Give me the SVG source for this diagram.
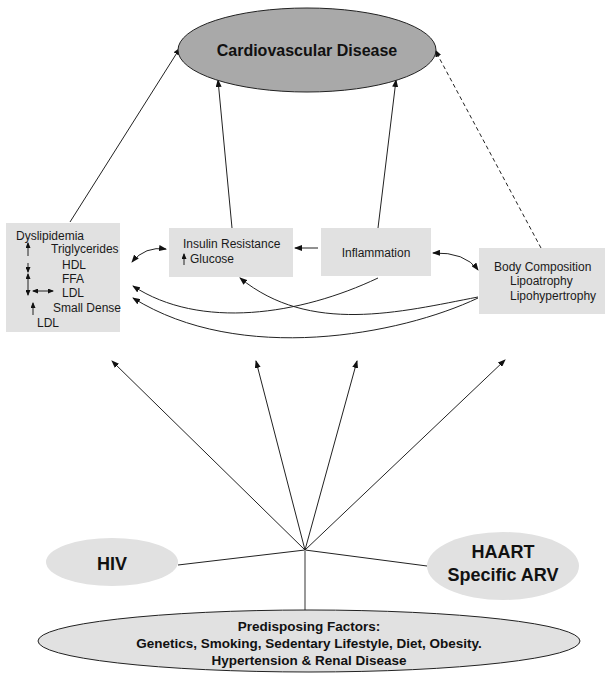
<svg xmlns="http://www.w3.org/2000/svg" width="612" height="679" viewBox="0 0 612 679">
<defs>
<marker id="ah" markerWidth="8" markerHeight="6" refX="7" refY="3" orient="auto-start-reverse" markerUnits="userSpaceOnUse">
<path d="M0,0 L8,3 L0,6 z" fill="#111"/>
</marker>
<marker id="sh" markerWidth="6" markerHeight="5" refX="5" refY="2.5" orient="auto-start-reverse" markerUnits="userSpaceOnUse">
<path d="M0,0 L6,2.5 L0,5 z" fill="#111"/>
</marker>
<style>
.box{fill:#e1e1e1;}
.t{font-family:"Liberation Sans",Arial,sans-serif;font-size:12px;fill:#1a1a1a;}
.b{font-family:"Liberation Sans",Arial,sans-serif;font-weight:bold;fill:#111;}
.c{fill:none;stroke:#222;stroke-width:1;}
</style>
</defs>
<rect width="612" height="679" fill="#fff"/>

<g id="connectors">
<path class="c" d="M70,222 L180,48" marker-end="url(#ah)"/>
<path class="c" d="M232,228 L218,80" marker-end="url(#ah)"/>
<path class="c" d="M378,228 L396,80" marker-end="url(#ah)"/>
<path class="c" d="M541,248 L435,50" stroke-dasharray="4,3" marker-end="url(#ah)"/>
<path class="c" d="M132,262 Q145,246 166,249" marker-start="url(#ah)" marker-end="url(#ah)"/>
<path class="c" d="M318,248 L295,248" marker-end="url(#ah)"/>
<path class="c" d="M433,253 Q465,252 478,270" marker-start="url(#ah)" marker-end="url(#ah)"/>
<path class="c" d="M378,278 C300,315 200,330 133,286" marker-end="url(#ah)"/>
<path class="c" d="M478,297 C400,312 310,335 240,278" marker-end="url(#ah)"/>
<path class="c" d="M478,298 C400,335 240,365 133,298" marker-end="url(#ah)"/>
<path class="c" d="M305,550 L112,361" marker-end="url(#ah)"/>
<path class="c" d="M305,550 L256,361" marker-end="url(#ah)"/>
<path class="c" d="M305,550 L357,361" marker-end="url(#ah)"/>
<path class="c" d="M305,550 L505,360" marker-end="url(#ah)"/>
<path class="c" d="M305,550 L178,565"/>
<path class="c" d="M305,550 L427,566"/>
<path d="M305,550 L305,610" stroke="#999" stroke-width="2" fill="none"/>
</g>

<g id="cvd">
<ellipse cx="307" cy="50" rx="129" ry="42" fill="#a9a9a9" stroke="#222" stroke-width="1"/>
<text class="b" x="307" y="56" font-size="16" text-anchor="middle">Cardiovascular Disease</text>
</g>

<g id="dyslipidemia">
<rect class="box" x="6" y="223" width="114" height="109"/>
<text class="t" x="16" y="240">Dyslipidemia</text>
<text class="t" x="51" y="253">Triglycerides</text>
<text class="t" x="62" y="269">HDL</text>
<text class="t" x="62" y="283">FFA</text>
<text class="t" x="62" y="297">LDL</text>
<text class="t" x="53" y="312">Small Dense</text>
<text class="t" x="37" y="327">LDL</text>
<path class="c" d="M28,256 L28,243" marker-end="url(#sh)"/>
<path class="c" d="M28,263 L28,272" marker-end="url(#sh)"/>
<path class="c" d="M28,274 L28,295" marker-start="url(#sh)" marker-end="url(#sh)"/>
<path class="c" d="M33,291 L53,291" marker-start="url(#sh)" marker-end="url(#sh)"/>
<path class="c" d="M33,315 L33,303" marker-end="url(#sh)"/>
</g>

<g id="insulin">
<rect class="box" x="169" y="228" width="124" height="49"/>
<text class="t" x="183" y="248">Insulin Resistance</text>
<text class="t" x="190" y="263">Glucose</text>
<path class="c" d="M184,265 L184,254" marker-end="url(#sh)"/>
</g>

<g id="inflammation">
<rect class="box" x="321" y="228" width="110" height="48"/>
<text class="t" x="376" y="257" text-anchor="middle">Inflammation</text>
</g>

<g id="body">
<rect class="box" x="479" y="248" width="126" height="66"/>
<text class="t" x="494" y="271">Body Composition</text>
<text class="t" x="510" y="285">Lipoatrophy</text>
<text class="t" x="510" y="300">Lipohypertrophy</text>
</g>

<g id="hiv">
<ellipse cx="112" cy="562" rx="66" ry="24" fill="#e1e1e1"/>
<text class="b" x="112" y="570" font-size="18" text-anchor="middle">HIV</text>
</g>

<g id="haart">
<ellipse cx="503" cy="566" rx="76" ry="34" fill="#e1e1e1"/>
<text class="b" x="503" y="558" font-size="18" text-anchor="middle">HAART</text>
<text class="b" x="503" y="581" font-size="18" text-anchor="middle">Specific ARV</text>
</g>

<g id="predisposing">
<ellipse cx="309" cy="641" rx="271" ry="31" fill="#e1e1e1" stroke="#222" stroke-width="1"/>
<text class="b" x="309" y="631" font-size="13.5" text-anchor="middle">Predisposing Factors:</text>
<text class="b" x="309" y="648" font-size="13.5" text-anchor="middle">Genetics, Smoking, Sedentary Lifestyle, Diet, Obesity.</text>
<text class="b" x="309" y="665" font-size="13.5" text-anchor="middle">Hypertension &amp; Renal Disease</text>
</g>
</svg>
